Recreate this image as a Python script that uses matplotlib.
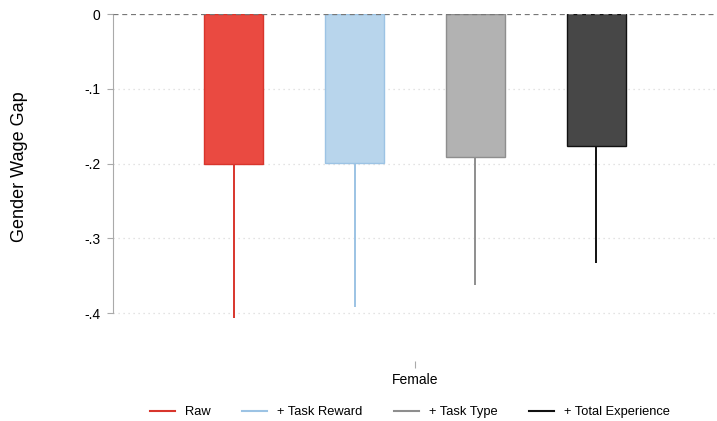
import numpy as np
import matplotlib.pyplot as plt
from matplotlib.lines import Line2D

plt.rcParams['font.family'] = ['Liberation Sans', 'DejaVu Sans']

# data
labels = ['Raw', '+ Task Reward', '+ Task Type', '+ Total Experience']
coef = [-0.2005, -0.1995, -0.191, -0.176]
ci_low = [-0.406, -0.3915, -0.363, -0.3335]
fills = ['#EA4A41', '#B8D5EC', '#B2B2B2', '#474747']
edges = ['#D8352C', '#9CC3E4', '#8E8E8E', '#111111']
group_label = 'Female'

pos = np.arange(1, len(coef) + 1)

fig = plt.figure(figsize=(7.17, 4.21), dpi=100)
ax = fig.add_axes([113/717, 1 - 361/421, 1 - 113/717, (361 - 14)/421])

for i in range(len(coef)):
    ax.bar(pos[i], coef[i], width=0.49, color=fills[i], edgecolor=edges[i],
           linewidth=1.0, zorder=3)
    ax.vlines(pos[i], ci_low[i], coef[i], color=edges[i], linewidth=1.4, zorder=2)

# grid + reference line
for yv in [-0.1, -0.2, -0.3, -0.4]:
    ax.axhline(yv, color='#DADADA', linestyle=(0, (1, 3)), linewidth=0.9, zorder=1)
ax.axhline(0, color='#777777', linestyle=(0, (4, 3)), linewidth=0.9, zorder=4)

ax.set_xlim(0, 5)
ax.set_ylim(-0.464, 0)
ax.set_yticks([0, -0.1, -0.2, -0.3, -0.4])
ax.set_yticklabels(['0', '-.1', '-.2', '-.3', '-.4'])
ax.set_xticks([2.5])
ax.set_xticklabels([group_label])

for s in ['top', 'right', 'bottom']:
    ax.spines[s].set_visible(False)
ax.spines['left'].set_bounds(-0.4, 0)
ax.spines['left'].set_color('#AAAAAA')
ax.tick_params(axis='y', colors='#AAAAAA', labelcolor='black', length=4,
               labelsize=10, pad=5)
ax.tick_params(axis='x', colors='#AAAAAA', labelcolor='black', length=5,
               labelsize=10, pad=4)

fig.text(20/717, 1 - 167/421, 'Gender Wage Gap', rotation=90, fontsize=13,
         ha='center', va='center')

handles = [Line2D([0], [0], color=e, linewidth=1.5) for e in edges]
fig.legend(handles, labels, loc='center', bbox_to_anchor=(410/717, 1 - 412/421),
           ncol=4, frameon=False, fontsize=9.3, handlelength=1.95,
           columnspacing=2.4, handletextpad=0.8)

fig.savefig('out.png', dpi=100)
